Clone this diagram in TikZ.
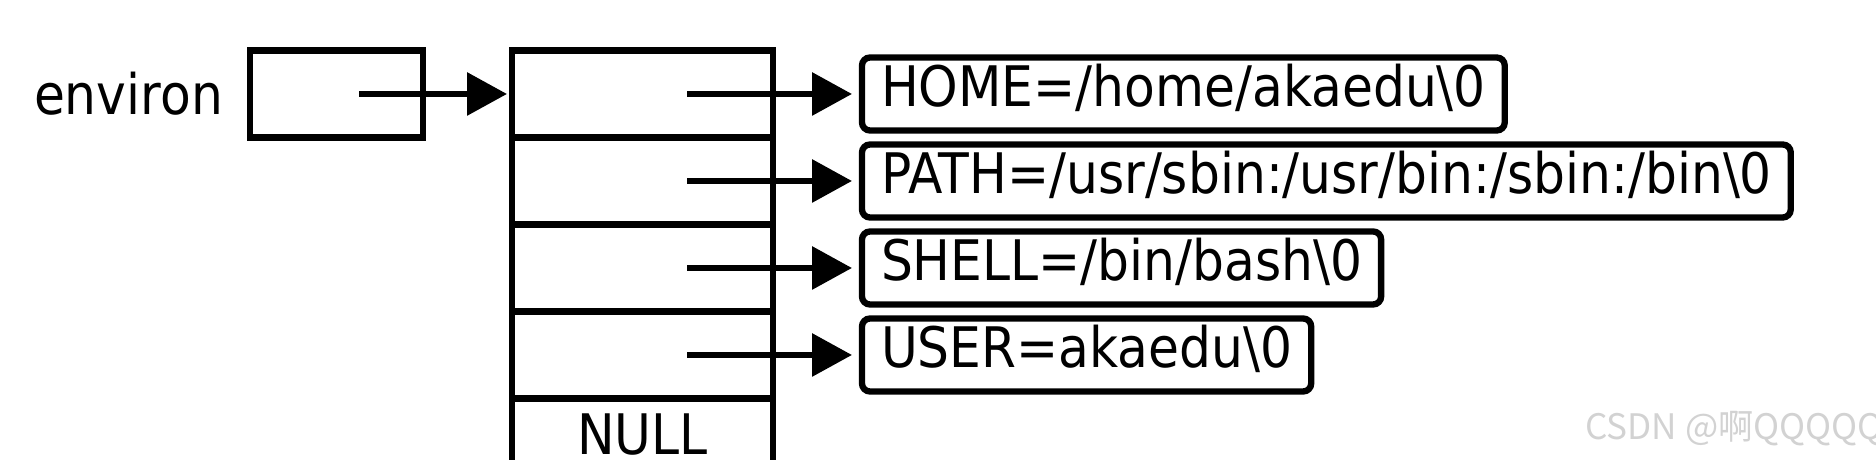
\documentclass[tikz,border=0pt]{standalone}
\usepackage{fontspec}
\setmainfont{DejaVu Sans}[FakeStretch=0.9]
\newfontfamily\cjk{Noto Sans CJK SC}
\usetikzlibrary{
  arrows.meta,  % Triangle 箭头
  positioning   % 节点相对定位
}

\begin{document}
\begin{tikzpicture}[
    >={Triangle[length=4mm,width=4.2mm]},
    line width=1.8pt,
    cell/.style={draw, rectangle, outer sep=0pt, inner sep=0pt,
      minimum width=2.61cm, minimum height=0.87cm,
      font=\fontsize{15.9}{19}\selectfont, text height=0.73em, text depth=0pt},
    ptrbox/.style={draw, rectangle, outer sep=0pt,
      minimum width=1.73cm, minimum height=0.87cm},
    strbox/.style={draw, rectangle, rounded corners=0.8mm, outer sep=0pt,
      inner xsep=1.9mm, inner ysep=0pt, minimum height=0.73cm,
      font=\fontsize{15.9}{19}\selectfont, text height=0.71em, text depth=0pt},
    lbl/.style={inner sep=0pt, font=\fontsize{15.9}{19}\selectfont}
  ]
  % 画布范围（下方超出部分裁去）
  \clip (0,0) rectangle (18.76,-4.60);

  % 指针数组：四个指针，末尾 NULL
  \node[cell] (p0) at (6.425,-0.94) {};
  \node[cell, below=0pt of p0] (p1) {};
  \node[cell, below=0pt of p1] (p2) {};
  \node[cell, below=0pt of p2] (p3) {};
  \node[cell, below=0pt of p3] (pnull) {NULL};

  % environ 变量
  \node[ptrbox, left=0.89cm of p0] (env) {};
  \node[lbl, left=0.24cm of env] (envname) {environ};

  % 环境变量字符串
  \node[strbox, right=0.89cm of p0] (s0) {HOME=/home/akaedu\textbackslash 0};
  \node[strbox, right=0.89cm of p1] (s1) {PATH=/usr/sbin:/usr/bin:/sbin:/bin\textbackslash 0};
  \node[strbox, right=0.89cm of p2] (s2) {SHELL=/bin/bash\textbackslash 0};
  \node[strbox, right=0.89cm of p3] (s3) {USER=akaedu\textbackslash 0};

  % 指针箭头
  \draw[->, shorten >=0.5mm] ([xshift=2.25mm]env.center) -- (p0.west);
  \foreach \i in {0,...,3}
    \draw[->, shorten >=1mm] ([xshift=4.45mm]p\i.center) -- (s\i.west);

  % 水印
  \node[anchor=base west, inner sep=0pt, text=gray!35,
    font=\cjk\fontsize{10}{12}\selectfont] (mark) at (15.82,-4.40) {CSDN @啊QQQQQ};
\end{tikzpicture}
\end{document}
